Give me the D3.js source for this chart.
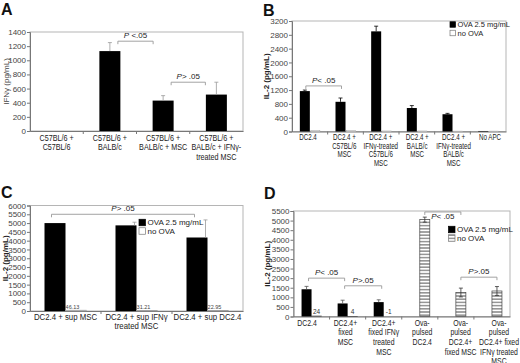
<!DOCTYPE html>
<html>
<head>
<meta charset="utf-8">
<script src="https://cdn.jsdelivr.net/npm/d3@7"></script>
<style>
  body { margin: 0; background: #fff; }
  svg { font-family: "Liberation Sans", Arial, sans-serif; }
</style>
</head>
<body>
<svg id="chart" width="520" height="363"></svg>
<script>
// ---- panel A: IFN-gamma
var catsA = [["C57BL/6 +", "C57BL/6"], ["C57BL/6 +", "BALB/c"], ["C57BL/6 +", "BALB/c + MSC"],
             ["C57BL/6 +", "BALB/c + IFN\u03b3-", "treated MSC"]];
var valsA = [0, 1130, 430, 515];
var errA = [0, 120, 70, 175];
var ticksA = [0, 200, 400, 600, 800, 1000, 1200, 1400];

// ---- panel B: IL-2, DC2.4 + MSC
var catsB = [["DC2.4"], ["DC2.4 +", "C57BL/6", "MSC"], ["DC2.4 +", "IFN\u03b3-treated", "C57BL/6", "MSC"],
             ["DC2.4 +", "BALB/c", "MSC"], ["DC2.4 +", "IFN\u03b3-treated", "BALB/c", "MSC"], ["No APC"]];
var ovaB = [1170, 860, 2900, 680, 500, 15];
var ovaErrB = [30, 110, 150, 70, 25, 0];
var noOvaB = [25, 30, 15, 15, 10, 10];
var ticksB = [0, 400, 800, 1200, 1600, 2000, 2400, 2800, 3200];

// ---- panel C: supernatants
var catsC = [["DC2.4 + sup MSC"], ["DC2.4 + sup IFN\u03b3", "treated MSC"], ["DC2.4 + sup DC2.4"]];
var ovaC = [5000, 4870, 4180];
var ovaErrC = [0, 180, 1000];
var noOvaC = [46.13, 31.21, 22.95];
var noOvaLabelsC = ["46.13", "31.21", "22.95"];
var ticksC = [0, 500, 1000, 1500, 2000, 2500, 3000, 3500, 4000, 4500, 5000, 5500, 6000];

// ---- panel D: fixed MSC
var catsD = [["DC2.4"], ["DC2.4+", "fixed", "MSC"], ["DC2.4+", "fixed IFN\u03b3", "treated", "MSC"],
             ["Ova-", "pulsed", "DC2.4"], ["Ova-", "pulsed", "DC2.4+", "fixed MSC"],
             ["Ova-", "pulsed", "DC2.4+ fixed", "IFN\u03b3 treated", "MSC"]];
var ovaD = [1420, 680, 750, 0, 0, 0];
var ovaErrD = [150, 170, 120, 0, 0, 0];
var noOvaD = [24, 4, -1, 5050, 1250, 1330];
var noOvaErrD = [0, 0, 0, 130, 230, 230];
var noOvaLabelsD = ["24", "4", "-1", "", "", ""];
var ticksD = [0, 500, 1000, 1500, 2000, 2500, 3000, 3500, 4000, 4500, 5000, 5500];

var svg = d3.select("#chart");

var defs = svg.append("defs");
var hatch = defs.append("pattern")
    .attr("id", "hatch")
    .attr("patternUnits", "userSpaceOnUse")
    .attr("width", 6).attr("height", 3.2);
hatch.append("rect").attr("width", 6).attr("height", 3.2).attr("fill", "#fff");
hatch.append("line").attr("x1", 0).attr("x2", 6).attr("y1", 1.6).attr("y2", 1.6)
    .attr("stroke", "#444").attr("stroke-width", 0.9);

function makePanel(p) {
    var x = d3.scaleBand().domain(d3.range(p.cats.length)).range([p.x0, p.x1]);
    var y = d3.scaleLinear().domain([0, p.ymax]).range([p.y0, p.y1]);
    // labels sit on their own point scale (in D they spread a bit wider than the bars)
    var lx = p.labelRange
        ? d3.scalePoint().domain(d3.range(p.cats.length)).range(p.labelRange)
        : function (i) { return x(i) + x.bandwidth() / 2; };
    var g = svg.append("g");

    // frame
    g.append("rect")
        .attr("x", p.x0).attr("y", p.y1)
        .attr("width", p.x1 - p.x0).attr("height", p.y0 - p.y1)
        .attr("fill", "none").attr("stroke", "#b5b5b5").attr("stroke-width", 1);

    var ya = g.append("g")
        .attr("transform", "translate(" + p.x0 + ",0)")
        .call(d3.axisLeft(y).tickValues(p.ticks).tickSize(3).tickPadding(1).tickFormat(d3.format("d")));
    ya.select(".domain").attr("stroke", "#777");
    ya.selectAll(".tick line").attr("stroke", "#777");
    ya.selectAll("text").attr("fill", "#444").style("font-size", "8px");

    var xa = g.append("g")
        .attr("transform", "translate(0," + p.y0 + ")")
        .call(d3.axisBottom(x).tickSize(0).tickFormat(""));
    xa.select(".domain").attr("stroke", "#777");
    // small ticks between the groups
    g.selectAll(".sep")
        .data(d3.range(1, p.cats.length))
        .enter().append("line")
        .attr("x1", function (d) { return x(d); })
        .attr("x2", function (d) { return x(d); })
        .attr("y1", p.y0).attr("y2", p.y0 + 3)
        .attr("stroke", "#777");

    // category labels (the original font is a bit condensed)
    p.cats.forEach(function (lines, i) {
        var t = g.append("text")
            .attr("transform", "translate(" + lx(i) + "," + (p.y0 + p.labelTop) + ") scale(" + p.squeeze + ",1)")
            .attr("text-anchor", "middle")
            .attr("fill", "#222")
            .style("font-size", p.labelSize + "px");
        lines.forEach(function (s, j) {
            t.append("tspan")
                .attr("x", 0)
                .attr("y", j * p.labelStep)
                .text(s);
        });
    });

    // y label
    g.append("text")
        .attr("transform", "translate(" + p.ylabX + "," + ((p.y0 + p.y1) / 2) + ") rotate(-90)")
        .attr("text-anchor", "middle")
        .attr("fill", p.ylabBold ? "#222" : "#444")
        .style("font-size", "8px")
        .style("font-weight", p.ylabBold ? "bold" : "normal")
        .text(p.ylab);

    // panel letter
    svg.append("text")
        .attr("x", p.letterX).attr("y", p.letterY)
        .style("font-size", "16px").style("font-weight", "bold")
        .attr("fill", "#111")
        .text(p.letter);

    return { g: g, x: x, y: y };
}

function errorBars(g, x, y, vals, errs, offset, color, both) {
    vals.forEach(function (v, i) {
        if (!errs[i]) return;
        var cx = x(i) + x.bandwidth() / 2 + offset;
        g.append("line")
            .attr("x1", cx).attr("x2", cx)
            .attr("y1", both ? y(v - errs[i]) : y(v)).attr("y2", y(v + errs[i]))
            .attr("stroke", color).attr("stroke-width", 0.8);
        g.append("line")
            .attr("x1", cx - 2).attr("x2", cx + 2)
            .attr("y1", y(v + errs[i])).attr("y2", y(v + errs[i]))
            .attr("stroke", color).attr("stroke-width", 0.8);
        if (both) {
            g.append("line")
                .attr("x1", cx - 2).attr("x2", cx + 2)
                .attr("y1", y(v - errs[i])).attr("y2", y(v - errs[i]))
                .attr("stroke", color).attr("stroke-width", 0.8);
        }
    });
}

function bracket(g, x, y, i1, i2, val, text, textBelow, dx1, dx2) {
    var xa = x(i1) + x.bandwidth() / 2 + (dx1 || 0),
        xb = x(i2) + x.bandwidth() / 2 + (dx2 || 0),
        yy = y(val);
    g.append("path")
        .attr("d", "M" + xa + "," + (yy + 3) + "V" + yy + "H" + xb + "V" + (yy + 3))
        .attr("fill", "none").attr("stroke", "#999").attr("stroke-width", 0.9);
    var t = g.append("text")
        .attr("x", (xa + xb) / 2)
        .attr("y", textBelow ? yy + 7 : yy - 3)
        .attr("text-anchor", "middle")
        .attr("fill", "#222")
        .style("font-size", "8px");
    t.append("tspan").style("font-style", "italic").text("P");
    t.append("tspan").text(text);
}

function legend(g, lx, ly, size, fontSize, gap, hatched) {
    var items = [{ label: "OVA 2.5 mg/mL", fill: "#000" }, { label: "no OVA", fill: hatched ? "url(#hatch)" : "#fff" }];
    items.forEach(function (it, i) {
        g.append("rect")
            .attr("x", lx).attr("y", ly + i * gap - size / 2)
            .attr("width", size).attr("height", size)
            .attr("fill", it.fill).attr("stroke", i ? "#777" : "#000").attr("stroke-width", 0.7);
        g.append("text")
            .attr("x", lx + size + 2).attr("y", ly + i * gap + fontSize * 0.35)
            .attr("fill", "#222")
            .style("font-size", fontSize + "px")
            .text(it.label);
    });
}

// ================= A =================
var A = makePanel({
    cats: catsA, ticks: ticksA, ymax: 1400,
    x0: 30, x1: 243, y0: 131, y1: 32,
    labelSize: 9, labelTop: 9.5, labelStep: 10, squeeze: 0.8,
    ylab: "IFN\u03b3  (pg/mL)", ylabX: 9, ylabBold: false,
    letter: "A", letterX: 1, letterY: 15
});
A.g.selectAll(".barA")
    .data(valsA)
    .enter().append("rect")
    .attr("x", function (d, i) { return A.x(i) + A.x.bandwidth() / 2 - 10.5; })
    .attr("y", function (d) { return A.y(d); })
    .attr("width", 21)
    .attr("height", function (d) { return A.y(0) - A.y(d); })
    .attr("fill", "#000");
errorBars(A.g, A.x, A.y, valsA, errA, 0, "#999", false);
bracket(A.g, A.x, A.y, 1, 2, 1270, " <.05", false, 8, -10);
bracket(A.g, A.x, A.y, 2, 3, 690, "> .05", false, 8, -11);

// ================= B =================
var B = makePanel({
    cats: catsB, ticks: ticksB, ymax: 3200,
    x0: 292, x1: 506, y0: 131.5, y1: 21,
    labelRange: [308, 490],
    labelSize: 8.2, labelTop: 8.5, labelStep: 8.7, squeeze: 0.76,
    ylab: "IL-2 (pg/mL)", ylabX: 269, ylabBold: true,
    letter: "B", letterX: 263, letterY: 16
});
B.g.selectAll(".ovaB")
    .data(ovaB)
    .enter().append("rect")
    .attr("x", function (d, i) { return B.x(i) + B.x.bandwidth() / 2 - 10; })
    .attr("y", function (d) { return B.y(d); })
    .attr("width", 10)
    .attr("height", function (d) { return B.y(0) - B.y(d); })
    .attr("fill", "#000");
B.g.selectAll(".noB")
    .data(noOvaB)
    .enter().append("rect")
    .attr("x", function (d, i) { return B.x(i) + B.x.bandwidth() / 2 + 1; })
    .attr("y", function (d) { return B.y(d); })
    .attr("width", 9)
    .attr("height", function (d) { return B.y(0) - B.y(d); })
    .attr("fill", "#fff").attr("stroke", "#aaa").attr("stroke-width", 0.6);
errorBars(B.g, B.x, B.y, ovaB, ovaErrB, -5, "#000", false);
bracket(B.g, B.x, B.y, 0, 1, 1320, "< .05", false, -4, -4);
legend(B.g, 450, 24.5, 5.5, 7.5, 8.5, false);

// ================= C =================
var C = makePanel({
    cats: catsC, ticks: ticksC, ymax: 6000,
    x0: 30, x1: 243, y0: 311, y1: 205.5,
    labelSize: 9.2, labelTop: 9, labelStep: 9.4, squeeze: 0.85,
    ylab: "IL-2 (pg/mL)", ylabX: 8, ylabBold: true,
    letter: "C", letterX: 1, letterY: 198
});
C.g.selectAll(".ovaC")
    .data(ovaC)
    .enter().append("rect")
    .attr("x", function (d, i) { return C.x(i) + C.x.bandwidth() / 2 - 21; })
    .attr("y", function (d) { return C.y(d); })
    .attr("width", 21)
    .attr("height", function (d) { return C.y(0) - C.y(d); })
    .attr("fill", "#000");
C.g.selectAll(".noC")
    .data(noOvaC)
    .enter().append("rect")
    .attr("x", function (d, i) { return C.x(i) + C.x.bandwidth() / 2; })
    .attr("y", function (d) { return C.y(d); })
    .attr("width", 21)
    .attr("height", function (d) { return C.y(0) - C.y(d); })
    .attr("fill", "#fff").attr("stroke", "#999").attr("stroke-width", 0.6);
C.g.selectAll(".noCLab")
    .data(noOvaLabelsC)
    .enter().append("text")
    .attr("x", function (d, i) { return C.x(i) + C.x.bandwidth() / 2 + 7; })
    .attr("y", C.y(0) - 2)
    .attr("text-anchor", "middle")
    .attr("fill", "#444")
    .style("font-size", "5.5px")
    .text(function (d) { return d; });
errorBars(C.g, C.x, C.y, ovaC, ovaErrC, -2, "#999", false);
bracket(C.g, C.x, C.y, 0, 2, 5500, "> .05", false, -14, -13);
legend(C.g, 139, 222.5, 6.5, 8, 8.5, false);

// ================= D =================
var D = makePanel({
    cats: catsD, ticks: ticksD, ymax: 5500,
    x0: 293.5, x1: 510, y0: 316.5, y1: 211,
    labelRange: [307, 499],
    labelSize: 9.3, labelTop: 9, labelStep: 9.7, squeeze: 0.74,
    ylab: "IL-2 (pg/mL)", ylabX: 270, ylabBold: true,
    letter: "D", letterX: 264, letterY: 199
});
D.g.selectAll(".ovaD")
    .data(ovaD)
    .enter().append("rect")
    .attr("x", function (d, i) { return D.x(i) + D.x.bandwidth() / 2 - 10; })
    .attr("y", function (d) { return D.y(d); })
    .attr("width", 10)
    .attr("height", function (d) { return D.y(0) - D.y(d); })
    .attr("fill", "#000");
D.g.selectAll(".noD")
    .data(noOvaD)
    .enter().append("rect")
    .attr("x", function (d, i) { return D.x(i) + D.x.bandwidth() / 2; })
    .attr("y", function (d) { return D.y(Math.max(d, 0)); })
    .attr("width", 10)
    .attr("height", function (d) { return D.y(0) - D.y(Math.max(d, 0)); })
    .attr("fill", "url(#hatch)").attr("stroke", "#444").attr("stroke-width", 0.7);
D.g.selectAll(".noDLab")
    .data(noOvaLabelsD)
    .enter().append("text")
    .attr("x", function (d, i) { return D.x(i) + D.x.bandwidth() / 2 + 5; })
    .attr("y", D.y(0) - 3)
    .attr("text-anchor", "middle")
    .attr("fill", "#333")
    .style("font-size", "6.5px")
    .text(function (d) { return d; });
errorBars(D.g, D.x, D.y, ovaD, ovaErrD, -5, "#555", false);
errorBars(D.g, D.x, D.y, noOvaD, noOvaErrD, 5, "#333", true);
bracket(D.g, D.x, D.y, 0, 1, 2000, "< .05", false, -3, -3);
bracket(D.g, D.x, D.y, 1, 2, 1600, ">.05", false, -3, -2);
bracket(D.g, D.x, D.y, 3, 4, 5450, "< .05", true, 5, 5);
bracket(D.g, D.x, D.y, 4, 5, 2050, ">.05", false, 5, 5);
legend(D.g, 448.5, 229.5, 6.5, 8, 8.5, true);
</script>
</body>
</html>
